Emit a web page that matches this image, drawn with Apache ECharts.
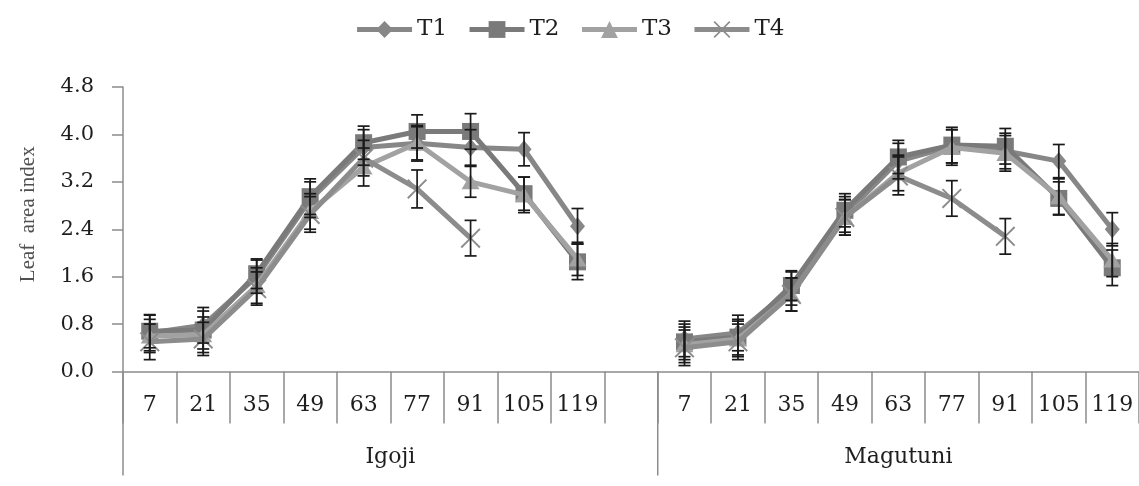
<!DOCTYPE html>
<html>
<head>
<meta charset="utf-8">
<title>Leaf area index</title>
<script src="https://cdn.jsdelivr.net/npm/echarts@6/dist/echarts.min.js"></script>
<style>
  html, body { margin: 0; padding: 0; background: #ffffff; }
  #chart { width: 1139px; height: 486px; }
</style>
</head>
<body>
<div id="chart"></div>
<script>
// Days after planting (sampling dates) for each site
const days = ['7', '21', '35', '49', '63', '77', '91', '105', '119'];
const sites = ['Igoji', 'Magutuni'];
const treatments = ['T1', 'T2', 'T3', 'T4'];

// Leaf area index means, Igoji
const igojiT1 = [0.65, 0.78, 1.60, 2.90, 3.78, 3.85, 3.78, 3.75, 2.45];
const igojiT2 = [0.68, 0.70, 1.65, 2.95, 3.86, 4.05, 4.05, 3.00, 1.85];
const igojiT3 = [0.60, 0.62, 1.45, 2.70, 3.45, 3.85, 3.20, 2.98, 1.90];
const igojiT4 = [0.50, 0.55, 1.40, 2.65, 3.60, 3.08, 2.25, null, null];

// Leaf area index means, Magutuni
const magutuniT1 = [0.55, 0.65, 1.40, 2.65, 3.55, 3.80, 3.72, 3.55, 2.40];
const magutuniT2 = [0.50, 0.58, 1.45, 2.72, 3.62, 3.82, 3.80, 2.92, 1.75];
const magutuniT3 = [0.45, 0.55, 1.30, 2.60, 3.35, 3.78, 3.68, 2.95, 1.88];
const magutuniT4 = [0.40, 0.50, 1.30, 2.60, 3.30, 2.92, 2.28, null, null];

// Standard errors, Igoji
const igojiErrT1 = [0.30, 0.30, 0.28, 0.30, 0.30, 0.28, 0.30, 0.28, 0.30];
const igojiErrT2 = [0.28, 0.32, 0.25, 0.30, 0.28, 0.28, 0.30, 0.28, 0.30];
const igojiErrT3 = [0.28, 0.30, 0.30, 0.30, 0.32, 0.30, 0.26, 0.30, 0.28];
const igojiErrT4 = [0.30, 0.28, 0.28, 0.30, 0.30, 0.32, 0.30, null, null];

// Standard errors, Magutuni
const magutuniErrT1 = [0.30, 0.30, 0.28, 0.30, 0.30, 0.28, 0.30, 0.28, 0.28];
const magutuniErrT2 = [0.30, 0.30, 0.25, 0.28, 0.28, 0.30, 0.30, 0.28, 0.30];
const magutuniErrT3 = [0.30, 0.30, 0.28, 0.30, 0.30, 0.30, 0.30, 0.30, 0.28];
const magutuniErrT4 = [0.30, 0.30, 0.28, 0.30, 0.32, 0.30, 0.30, null, null];

// Y axis ticks
const yMin = 0, yMax = 4.8, yStep = 0.8;

// Category axis: Igoji days, one blank slot, then Magutuni days
const xCategories = [...days, '', ...days];
const join = (a, b) => [...a, null, ...b];
const means = [
  join(igojiT1, magutuniT1),
  join(igojiT2, magutuniT2),
  join(igojiT3, magutuniT3),
  join(igojiT4, magutuniT4)
];
const errs = [
  join(igojiErrT1, magutuniErrT1),
  join(igojiErrT2, magutuniErrT2),
  join(igojiErrT3, magutuniErrT3),
  join(igojiErrT4, magutuniErrT4)
];
// Site groups on the category axis: first slot and slot count
const groups = [
  { name: sites[0], start: 0, count: days.length + 1 },
  { name: sites[1], start: days.length + 1, count: days.length }
];

const SERIF = '"DejaVu Serif", "Liberation Serif", serif';
const colors = ['#878787', '#7a7a7a', '#a2a2a2', '#8c8c8c'];
const xMark = 'path://M0,1.1 L1.1,0 L8,6.9 L14.9,0 L16,1.1 L9.1,8 L16,14.9 L14.9,16 L8,9.1 L1.1,16 L0,14.9 L6.9,8 Z';
const symbols = ['diamond', 'rect', 'triangle', xMark];
const symbolSizes = [[15, 18], 17, [18, 15], 20];

const lineSeries = treatments.map((t, k) => ({
  name: t,
  type: 'line',
  data: means[k],
  connectNulls: false,
  symbol: symbols[k],
  symbolSize: symbolSizes[k],
  showAllSymbol: true,
  color: colors[k],
  lineStyle: { width: 5, color: colors[k] },
  itemStyle: { color: colors[k] },
  z: 2 + k
}));

// Vertical error bars with caps
const errorSeries = treatments.map((t, k) => ({
  name: t + ' error',
  type: 'custom',
  silent: true,
  z: 10,
  data: means[k].map((v, i) => (v == null || errs[k][i] == null) ? null : [i, v, errs[k][i]])
               .filter(d => d !== null),
  renderItem: function (params, api) {
    const x = api.value(0), v = api.value(1), e = api.value(2);
    const hi = api.coord([x, v + e]);
    const lo = api.coord([x, v - e]);
    const half = 6;
    const st = { stroke: '#1a1a1a', lineWidth: 1.7 };
    return {
      type: 'group',
      children: [
        { type: 'line', shape: { x1: hi[0], y1: hi[1], x2: lo[0], y2: lo[1] }, style: st },
        { type: 'line', shape: { x1: hi[0] - half, y1: hi[1], x2: hi[0] + half, y2: hi[1] }, style: st },
        { type: 'line', shape: { x1: lo[0] - half, y1: lo[1], x2: lo[0] + half, y2: lo[1] }, style: st }
      ]
    };
  }
}));

// Site names and long separators below the day labels
const groupSeries = {
  type: 'custom',
  silent: true,
  clip: false,
  z: 1,
  data: groups.map((g, i) => [g.start, 0, i]),
  renderItem: function (params, api) {
    const g = groups[api.value(2)];
    const band = api.size([1, 0])[0];
    const first = api.coord([g.start, 0]);
    const last = api.coord([g.start + g.count - 1, 0]);
    const left = first[0] - band / 2;
    const right = last[0] + band / 2;
    const y0 = first[1];
    return {
      type: 'group',
      children: [
        { type: 'line', shape: { x1: left, y1: y0, x2: left, y2: y0 + 104 },
          style: { stroke: '#8c8c8c', lineWidth: 1.5 } },
        { type: 'text', x: (left + right) / 2, y: y0 + 86,
          style: { text: g.name, font: '22px ' + SERIF, fill: '#1e1e1e',
                   textAlign: 'center', textVerticalAlign: 'middle' } }
      ]
    };
  }
};

const chart = echarts.init(document.getElementById('chart'));
chart.setOption({
  backgroundColor: '#ffffff',
  animation: false,
  legend: {
    data: treatments,
    top: 13,
    left: 'center',
    itemWidth: 55,
    itemHeight: 21,
    itemGap: 20,
    lineStyle: { width: 5 },
    textStyle: { fontFamily: SERIF, fontSize: 23, color: '#1e1e1e' }
  },
  grid: { left: 123, right: 0, top: 87, bottom: 114.5, containLabel: false },
  xAxis: {
    type: 'category',
    data: xCategories,
    boundaryGap: true,
    axisLine: { lineStyle: { color: '#8c8c8c', width: 1.5 } },
    axisTick: { show: true, interval: 0, inside: false, length: 52,
                lineStyle: { color: '#8c8c8c', width: 1.5 } },
    axisLabel: { interval: 0, margin: 23, fontFamily: SERIF, fontSize: 22, color: '#1e1e1e' },
    splitLine: { show: false }
  },
  yAxis: {
    type: 'value',
    min: yMin,
    max: yMax,
    interval: yStep,
    name: 'Leaf  area index',
    nameLocation: 'middle',
    nameGap: 84,
    nameTextStyle: { fontFamily: '"Liberation Serif", serif', fontSize: 21, color: '#505050',
                     padding: [0, 0, 0, 30] },
    axisLine: { show: true, lineStyle: { color: '#8c8c8c', width: 1.5 } },
    axisTick: { show: true, inside: false, length: 11, lineStyle: { color: '#8c8c8c', width: 1.5 } },
    axisLabel: { margin: 29, fontFamily: SERIF, fontSize: 21, color: '#1e1e1e',
                 formatter: v => v.toFixed(1) },
    splitLine: { show: false }
  },
  series: [...lineSeries, ...errorSeries, groupSeries]
});
</script>
</body>
</html>
